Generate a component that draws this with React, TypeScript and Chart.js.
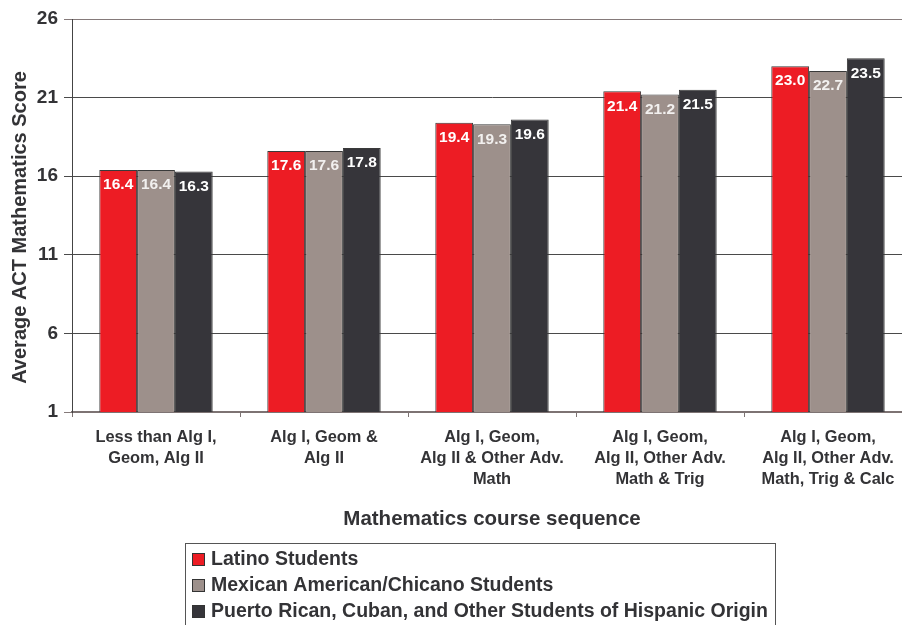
import React, { useEffect, useRef } from "react";
import { Chart, registerables } from "chart.js";

Chart.register(...registerables);

const categories: string[][] = [
  ["Less than Alg I,", "Geom, Alg II"],
  ["Alg I, Geom &", "Alg II"],
  ["Alg I, Geom,", "Alg II & Other Adv.", "Math"],
  ["Alg I, Geom,", "Alg II, Other Adv.", "Math & Trig"],
  ["Alg I, Geom,", "Alg II, Other Adv.", "Math, Trig & Calc"],
];

const seriesNames = [
  "Latino Students",
  "Mexican American/Chicano Students",
  "Puerto Rican, Cuban, and Other Students of Hispanic Origin",
];

const latino = [16.4, 17.6, 19.4, 21.4, 23.0];
const mexican = [16.4, 17.6, 19.3, 21.2, 22.7];
const puertoRican = [16.3, 17.8, 19.6, 21.5, 23.5];

const colors = ["#ED1C24", "#9D908B", "#36353A"];

const yTicks = [1, 6, 11, 16, 21, 26];

const yTitle = "Average ACT Mathematics Score";
const xTitle = "Mathematics course sequence";

const FONT = "'Liberation Sans', Arial, Helvetica, sans-serif";
const TEXT = "#333336";

const valueLabels = {
  id: "valueLabels",
  afterDatasetsDraw(chart: any) {
    const ctx = chart.ctx;
    ctx.save();
    ctx.font = `bold 15.5px ${FONT}`;
    ctx.textAlign = "center";
    ctx.textBaseline = "middle";
    chart.data.datasets.forEach((ds: any, di: number) => {
      const meta = chart.getDatasetMeta(di);
      meta.data.forEach((bar: any, i: number) => {
        ctx.fillStyle = di === 1 ? "#f2f0ef" : "#ffffff";
        ctx.fillText(Number(ds.data[i]).toFixed(1), bar.x, bar.y + 15);
      });
    });
    ctx.restore();
  },
};

const yTitlePlugin = {
  id: "yTitlePlugin",
  afterDraw(chart: any) {
    const ctx = chart.ctx;
    const area = chart.chartArea;
    ctx.save();
    ctx.translate(20, (area.top + area.bottom) / 2 + 12);
    ctx.rotate(-Math.PI / 2);
    ctx.font = `bold 20px ${FONT}`;
    ctx.fillStyle = TEXT;
    ctx.textAlign = "center";
    ctx.textBaseline = "middle";
    ctx.fillText(yTitle, 0, 0);
    ctx.restore();
  },
};

const boxLegend = {
  id: "boxLegend",
  afterDraw(chart: any) {
    const ctx = chart.ctx;
    ctx.save();
    ctx.strokeStyle = "#555";
    ctx.lineWidth = 1;
    ctx.strokeRect(185.5, 543.5, 590, 100);
    ctx.font = `bold 19.5px ${FONT}`;
    ctx.textBaseline = "middle";
    ctx.textAlign = "left";
    chart.data.datasets.forEach((ds: any, i: number) => {
      const cy = 559 + i * 26;
      ctx.fillStyle = ds.backgroundColor;
      ctx.fillRect(192, cy - 6, 13, 13);
      ctx.strokeStyle = "#333";
      ctx.strokeRect(192.5, cy - 5.5, 12, 12);
      ctx.fillStyle = TEXT;
      ctx.fillText(ds.label, 211, cy + 1);
    });
    ctx.restore();
  },
};

export default function App() {
  const ref = useRef<HTMLCanvasElement>(null);

  useEffect(() => {
    if (!ref.current) return;
    const data = [latino, mexican, puertoRican];
    const chart = new Chart(ref.current, {
      type: "bar",
      data: {
        labels: categories,
        datasets: seriesNames.map((name, i) => ({
          label: name,
          data: data[i],
          backgroundColor: colors[i],
          borderColor: "#3a3a3a",
          borderWidth: 1,
          barPercentage: 1,
          categoryPercentage: 0.675,
        })),
      },
      options: {
        responsive: false,
        animation: false,
        devicePixelRatio: 1,
        layout: { padding: { top: 19, right: 8, bottom: 90, left: 0 } },
        plugins: {
          legend: { display: false },
          tooltip: { enabled: false },
        },
        scales: {
          x: {
            grid: {
              offset: true,
              drawOnChartArea: false,
              drawTicks: true,
              tickLength: 5,
              color: "#7d7373",
            },
            border: { color: "#7d7373", width: 2 },
            ticks: {
              color: TEXT,
              font: { family: FONT, size: 16.4, weight: "bold", lineHeight: 1.27 },
              maxRotation: 0,
              autoSkip: false,
              padding: 10,
            },
            title: {
              display: true,
              text: xTitle,
              color: TEXT,
              font: { family: FONT, size: 20.5, weight: "bold" },
              padding: { top: 4, bottom: 3 },
            },
            afterFit(scale: any) {
              scale.height = 123;
            },
          },
          y: {
            min: 1,
            max: 26,
            afterBuildTicks(scale: any) {
              scale.ticks = yTicks.map((v) => ({ value: v }));
            },
            grid: {
              color: (c: any) => (c.tick && (c.tick.value === 26 || c.tick.value === 1) ? "#857a7a" : "#4a4a4a"),
              lineWidth: 1,
              tickLength: 8,
            },
            border: { color: "#444", width: 1 },
            ticks: {
              color: TEXT,
              font: { family: FONT, size: 19, weight: "bold" },
              padding: 6,
            },
            afterFit(scale: any) {
              scale.width = 72;
            },
          },
        },
      },
      plugins: [valueLabels, yTitlePlugin, boxLegend],
    } as any);
    return () => chart.destroy();
  }, []);

  return (
    <div
      style={{
        position: "fixed",
        left: 0,
        top: 0,
        width: 902,
        height: 625,
        overflow: "hidden",
        background: "#fff",
      }}
    >
      <canvas ref={ref} width={920} height={625} style={{ display: "block" }} />
    </div>
  );
}
